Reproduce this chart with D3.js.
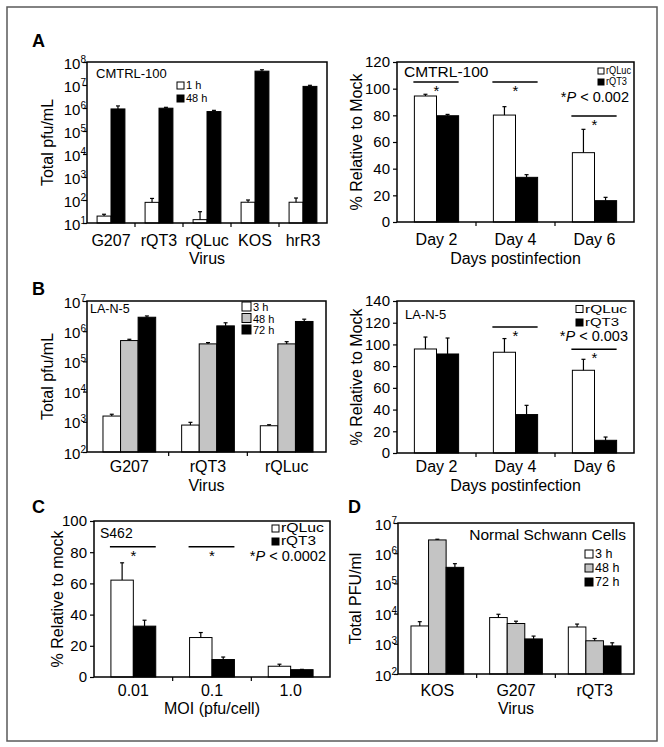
<!DOCTYPE html>
<html><head><meta charset="utf-8">
<script src="https://cdn.jsdelivr.net/npm/d3@7"></script>
<style>
body{margin:0;background:#fff}
svg{display:block}
text{font-family:"Liberation Sans",Arial,Helvetica,sans-serif;fill:#000}
</style>
</head><body>
<svg id="c" width="664" height="747"></svg>
<script>
// ---------------- DATA ----------------
// Panel A (left): CMTRL-100 virus yield, log scale
const aLeftCats = ["G207", "rQT3", "rQLuc", "KOS", "hrR3"];
const aLeft1h = [20, 79, 14, 80, 80];
const aLeft1hHi = [24, 117, 31, 100, 122];
const aLeft48h = [9.1e5, 9.8e5, 7.0e5, 4.0e7, 8.7e6];
const aLeft48hHi = [1.23e6, 1.07e6, 7.9e5, 4.6e7, 9.7e6];
const logTicksA = [1e1, 1e2, 1e3, 1e4, 1e5, 1e6, 1e7, 1e8];

// Panel A (right): CMTRL-100 % relative to mock
const dayCats = ["Day 2", "Day 4", "Day 6"];
const aRightQLuc = [94.5, 80.2, 52];
const aRightQLucHi = [95.8, 86.5, 69.5];
const aRightQT3 = [79.7, 33.5, 16];
const aRightQT3Hi = [80.7, 35.5, 18.5];
const aRightSig = [105, 105, 79.5];
const ticksA2 = [0, 20, 40, 60, 80, 100, 120];

// Panel B (left): LA-N-5 virus yield, log scale
const bLeftCats = ["G207", "rQT3", "rQLuc"];
const bLeft3h = [1550, 780, 740];
const bLeft3hHi = [1780, 960, 800];
const bLeft48h = [4.9e5, 3.8e5, 3.8e5];
const bLeft48hHi = [5.4e5, 4.2e5, 4.5e5];
const bLeft72h = [2.9e6, 1.5e6, 2.1e6];
const bLeft72hHi = [3.2e6, 1.9e6, 2.5e6];
const logTicksB = [1e2, 1e3, 1e4, 1e5, 1e6, 1e7];

// Panel B (right): LA-N-5 % relative to mock
const bRightQLuc = [95.8, 92.8, 76.2];
const bRightQLucHi = [106.8, 105.4, 86.3];
const bRightQT3 = [91.2, 35.4, 11.7];
const bRightQT3Hi = [105.9, 43.9, 14.7];
const bRightSig = [null, 116, 95.5];
const ticksB2 = [0, 20, 40, 60, 80, 100, 120, 140];

// Panel C: S462 % relative to mock vs MOI
const moiCats = ["0.01", "0.1", "1.0"];
const cQLuc = [62.1, 25.3, 6.9];
const cQLucHi = [73.2, 28.5, 8.2];
const cQT3 = [32.6, 11.2, 4.7];
const cQT3Hi = [36.4, 12.8, 4.9];
const cSig = [83.5, 83.5, null];
const ticksC = [0, 20, 40, 60, 80, 100];

// Panel D: Normal Schwann cells virus yield, log scale
const dCats = ["KOS", "G207", "rQT3"];
const d3h = [3900, 7400, 3600];
const d3hHi = [5400, 9500, 4500];
const d48h = [2.75e6, 4700, 1260];
const d48hHi = [2.9e6, 5600, 1500];
const d72h = [3.4e5, 1450, 850];
const d72hHi = [4.5e5, 1800, 1080];

const WHITE = "#ffffff", GREY = "#c4c4c4", BLACK = "#000000";

// ---------------- DRAW ----------------
const svg = d3.select("#c");
svg.append("rect").attr("x", 7).attr("y", 7).attr("width", 650).attr("height", 734)
  .attr("fill", "none").attr("stroke", "#5a5a5a").attr("stroke-width", 1.5);

function panel(cfg) {
  const g = svg.append("g");
  const xr = cfg.xr || [cfg.x0, cfg.x1];
  const x = d3.scaleBand().domain(cfg.cats).range(xr).paddingInner(cfg.pad).paddingOuter(cfg.pad / 2);
  const xs = d3.scaleBand().domain(d3.range(cfg.series.length)).range([0, x.bandwidth()]);
  const y = cfg.log
    ? d3.scaleLog().domain(cfg.domain).range([cfg.y1, cfg.y0])
    : d3.scaleLinear().domain(cfg.domain).range([cfg.y1, cfg.y0]);

  cfg.series.forEach((s, si) => {
    g.selectAll(null).data(cfg.cats).enter().append("rect")
      .attr("x", c => x(c) + xs(si))
      .attr("width", xs.bandwidth())
      .attr("y", (c, i) => y(s.vals[i]))
      .attr("height", (c, i) => cfg.y1 - y(s.vals[i]))
      .attr("fill", s.fill).attr("stroke", "#000").attr("stroke-width", 1);
    const eb = g.selectAll(null).data(cfg.cats).enter().append("g");
    eb.append("line")
      .attr("x1", c => x(c) + xs(si) + xs.bandwidth() / 2)
      .attr("x2", c => x(c) + xs(si) + xs.bandwidth() / 2)
      .attr("y1", (c, i) => y(s.vals[i]))
      .attr("y2", (c, i) => y(s.hi[i]))
      .attr("stroke", "#000").attr("stroke-width", 1.2);
    eb.append("line")
      .attr("x1", c => x(c) + xs(si) + xs.bandwidth() / 2 - 2)
      .attr("x2", c => x(c) + xs(si) + xs.bandwidth() / 2 + 2)
      .attr("y1", (c, i) => y(s.hi[i]))
      .attr("y2", (c, i) => y(s.hi[i]))
      .attr("stroke", "#000").attr("stroke-width", 1.2);
  });

  g.append("rect").attr("x", cfg.x0).attr("y", cfg.y0)
    .attr("width", cfg.x1 - cfg.x0).attr("height", cfg.y1 - cfg.y0)
    .attr("fill", "none").attr("stroke", "#000").attr("stroke-width", 1.5);

  const ax = d3.axisLeft(y).tickValues(cfg.ticks).tickSize(4).tickPadding(3);
  if (!cfg.log) ax.tickFormat(d3.format("d"));
  const ag = g.append("g").attr("transform", `translate(${cfg.x0},0)`).call(ax);
  ag.select(".domain").remove();
  ag.selectAll(".tick line").attr("stroke", "#000").attr("stroke-width", 1.2);
  ag.selectAll(".tick text").attr("font-size", 15).attr("font-family", null);
  if (cfg.log) {
    ag.selectAll(".tick text").each(function (d) {
      const t = d3.select(this);
      t.text(null).attr("x", -1).attr("dy", "0.4em");
      t.append("tspan").text("10");
      t.append("tspan").attr("dy", "-0.6em").attr("font-size", 10).text(Math.round(Math.log10(d)));
    });
  }

  for (let i = 1; i < cfg.cats.length; i++) {
    const bx = (x(cfg.cats[i - 1]) + x.bandwidth() / 2 + x(cfg.cats[i]) + x.bandwidth() / 2) / 2;
    g.append("line").attr("x1", bx).attr("x2", bx).attr("y1", cfg.y1).attr("y2", cfg.y1 + 4)
      .attr("stroke", "#000").attr("stroke-width", 1.2);
  }
  g.selectAll(null).data(cfg.cats).enter().append("text")
    .attr("x", c => x(c) + x.bandwidth() / 2).attr("y", cfg.catY)
    .attr("text-anchor", "middle").attr("font-size", 16).text(c => c);
  g.append("text").attr("x", (cfg.x0 + cfg.x1) / 2 + (cfg.xtOff || 0)).attr("y", cfg.xtY)
    .attr("text-anchor", "middle").attr("font-size", 16).text(cfg.xTitle);
  g.append("text").attr("transform", `translate(${cfg.ytX},${(cfg.y0 + cfg.y1) / 2}) rotate(-90)`)
    .attr("text-anchor", "middle").attr("dy", "0.35em").attr("font-size", 16).text(cfg.yTitle);

  if (cfg.sig) {
    cfg.sig.forEach((lv, i) => {
      if (lv == null) return;
      const c = cfg.cats[i];
      const xa = x(c), xb = x(c) + x.bandwidth();
      g.append("line").attr("x1", xa - 1).attr("x2", xb).attr("y1", y(lv)).attr("y2", y(lv))
        .attr("stroke", "#000").attr("stroke-width", 1.5);
      g.append("text").attr("x", (xa + xb) / 2).attr("y", y(lv) + 14)
        .attr("text-anchor", "middle").attr("font-size", 15).text("*");
    });
  }
  return { g, x, y };
}

function panelLetter(txt, x, y) {
  svg.append("text").attr("x", x).attr("y", y).attr("font-size", 18).attr("font-weight", "bold").text(txt);
}
function legendRow(x, y, fill, label, fs, sz, opts = {}) {
  svg.append("rect").attr("x", x).attr("y", y - sz).attr("width", sz).attr("height", sz)
    .attr("fill", fill).attr("stroke", "#000").attr("stroke-width", 1);
  const t = svg.append("text").attr("x", x + sz + 2).attr("y", y).attr("font-size", fs).text(label);
  if (opts.len) t.attr("textLength", opts.len).attr("lengthAdjust", "spacingAndGlyphs");
}
function pText(xEnd, y, pv, fs) {
  const t = svg.append("text").attr("x", xEnd).attr("y", y).attr("text-anchor", "end").attr("font-size", fs);
  t.append("tspan").text("*");
  t.append("tspan").attr("font-style", "italic").text("P");
  t.append("tspan").text(" < " + pv);
}

// ---- Panel A left ----
panelLetter("A", 32, 47);
panel({
  x0: 87, x1: 327, y0: 62, y1: 223, log: true, domain: [10, 1e8], ticks: logTicksA,
  cats: aLeftCats, pad: 0.42,
  series: [{ vals: aLeft1h, hi: aLeft1hHi, fill: WHITE }, { vals: aLeft48h, hi: aLeft48hHi, fill: BLACK }],
  catY: 246, xTitle: "Virus", xtY: 264, yTitle: "Total pfu/mL", ytX: 47
});
svg.append("text").attr("x", 96).attr("y", 78).attr("font-size", 13).text("CMTRL-100");
legendRow(177, 89, WHITE, "1 h", 11, 7);
legendRow(177, 102, BLACK, "48 h", 11, 7);

// ---- Panel A right ----
panel({
  x0: 397, x1: 634, y0: 62, y1: 222, log: false, domain: [0, 120], ticks: ticksA2,
  cats: dayCats, pad: 0.44,
  series: [{ vals: aRightQLuc, hi: aRightQLucHi, fill: WHITE }, { vals: aRightQT3, hi: aRightQT3Hi, fill: BLACK }],
  catY: 245, xTitle: "Days postinfection", xtY: 264, yTitle: "% Relative to Mock", ytX: 356,
  sig: aRightSig
});
svg.append("text").attr("x", 404).attr("y", 77).attr("font-size", 15.5).text("CMTRL-100");
legendRow(598, 74, WHITE, "rQLuc", 10, 6, { len: 25 });
legendRow(598, 85, BLACK, "rQT3", 10, 6, { len: 21 });
pText(629, 102, "0.002", 14.5);

// ---- Panel B left ----
panelLetter("B", 32, 295);
panel({
  x0: 87, x1: 326, xr: [90, 326], y0: 301, y1: 452, log: true, domain: [100, 1e7], ticks: logTicksB,
  cats: bLeftCats, pad: 0.33,
  series: [{ vals: bLeft3h, hi: bLeft3hHi, fill: WHITE }, { vals: bLeft48h, hi: bLeft48hHi, fill: GREY },
           { vals: bLeft72h, hi: bLeft72hHi, fill: BLACK }],
  catY: 472, xTitle: "Virus", xtY: 491, yTitle: "Total pfu/mL", ytX: 47
});
svg.append("text").attr("x", 90).attr("y", 313).attr("font-size", 12.5).text("LA-N-5");
legendRow(242, 311, WHITE, "3 h", 11, 9);
legendRow(242, 322.5, GREY, "48 h", 11, 9);
legendRow(242, 334, BLACK, "72 h", 11, 9);

// ---- Panel B right ----
panel({
  x0: 397, x1: 634, y0: 301, y1: 453, log: false, domain: [0, 140], ticks: ticksB2,
  cats: dayCats, pad: 0.44,
  series: [{ vals: bRightQLuc, hi: bRightQLucHi, fill: WHITE }, { vals: bRightQT3, hi: bRightQT3Hi, fill: BLACK }],
  catY: 472, xTitle: "Days postinfection", xtY: 491, yTitle: "% Relative to Mock", ytX: 356,
  sig: bRightSig
});
svg.append("text").attr("x", 405).attr("y", 319).attr("font-size", 13).text("LA-N-5");
legendRow(576, 312.5, WHITE, "rQLuc", 11.5, 7, { len: 42 });
legendRow(576, 326, BLACK, "rQT3", 11.5, 7, { len: 34 });
pText(628, 341, "0.003", 14.5);

// ---- Panel C ----
panelLetter("C", 32, 513);
panel({
  x0: 94, x1: 330, y0: 521, y1: 677, log: false, domain: [0, 100], ticks: ticksC,
  cats: moiCats, pad: 0.43,
  series: [{ vals: cQLuc, hi: cQLucHi, fill: WHITE }, { vals: cQT3, hi: cQT3Hi, fill: BLACK }],
  catY: 696, xTitle: "MOI (pfu/cell)", xtY: 714, yTitle: "% Relative to mock", ytX: 57,
  sig: cSig
});
svg.append("text").attr("x", 100).attr("y", 538).attr("font-size", 14).text("S462");
legendRow(272, 532, WHITE, "rQLuc", 12.5, 7, { len: 43 });
legendRow(272, 545, BLACK, "rQT3", 12.5, 7, { len: 35 });
pText(326, 561, "0.0002", 14.5);

// ---- Panel D ----
panelLetter("D", 348, 513);
panel({
  x0: 398, x1: 634, y0: 523, y1: 674, log: true, domain: [100, 1e7], ticks: logTicksB,
  cats: dCats, pad: 0.33,
  series: [{ vals: d3h, hi: d3hHi, fill: WHITE }, { vals: d48h, hi: d48hHi, fill: GREY },
           { vals: d72h, hi: d72hHi, fill: BLACK }],
  catY: 696, xTitle: "Virus", xtY: 714, yTitle: "Total PFU/ml", ytX: 355
});
svg.append("text").attr("x", 626).attr("y", 540).attr("text-anchor", "end").attr("font-size", 15.5).text("Normal Schwann Cells");
legendRow(585, 558, WHITE, "3 h", 12.5, 8);
legendRow(585, 572, GREY, "48 h", 12.5, 8);
legendRow(585, 586, BLACK, "72 h", 12.5, 8);
</script>
</body></html>
